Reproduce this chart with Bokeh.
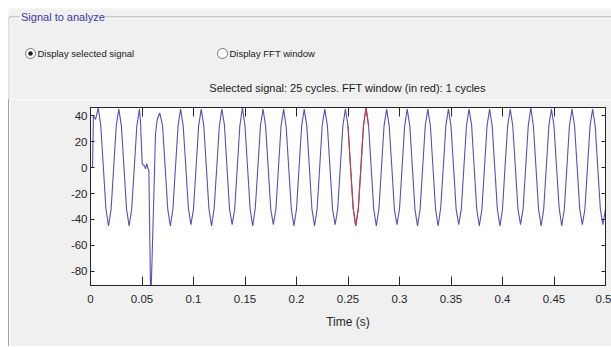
import numpy as np
from bokeh.plotting import figure
from bokeh.models import Range1d, LinearAxis, FixedTicker, ColumnDataSource
from bokeh.embed import file_html
from bokeh.resources import INLINE
from bokeh.core.properties import value

# ---------------- data ----------------
panel_title = "Signal to analyze"
radio_labels = ["Display selected signal", "Display FFT window"]
radio_selected = [True, False]
chart_title = "Selected signal: 25 cycles. FFT window (in red): 1 cycles"
x_label = "Time (s)"

x_ticks = [0, 0.05, 0.1, 0.15, 0.2, 0.25, 0.3, 0.35, 0.4, 0.45, 0.5]
x_tick_labels = ["0", "0.05", "0.1", "0.15", "0.2", "0.25", "0.3", "0.35", "0.4", "0.45", "0.5"]
y_ticks = [-80, -60, -40, -20, 0, 20, 40]
y_tick_labels = ["-80", "-60", "-40", "-20", "0", "20", "40"]

fft_window = [0.25, 0.27]   # seconds, drawn in red

# start of record and the disturbance (irregular samples): seconds / amplitude
time_a = [0, 0.002, 0.0028, 0.005, 0.0075, 0.01, 0.0125, 0.015, 0.0175, 0.02,
          0.0225, 0.025, 0.0275, 0.03, 0.0325, 0.035, 0.0375, 0.04, 0.0425, 0.045,
          0.0475, 0.0485, 0.0502, 0.0525, 0.0535, 0.0545, 0.0556, 0.0567, 0.0583,
          0.0589, 0.0614, 0.0631, 0.0648, 0.0672]
signal_a = [0, 0, 40, 37, 46, 32, 0, -32, -45, -32,
            0, 32, 45, 32, 0, -32, -45, -32, 0, 32,
            45, 36, 3, 1, -1, 3, 0, -3, -96,
            -94, -25, 26, 37, 42]

# steady part, sampled every 2.5 ms from 0.07 s to 0.5 s
time_b_start = 0.07
time_b_step = 0.0025
signal_b = [
    32, 0, -32, -45, -32, 0, 32, 45,
    32, 1, -31, -44, -32, 0, 32, 45,
    32, 0, -32, -45, -32, -1, 31, 45,
    33, 0, -32, -44, -32, 0, 32, 46,
    32, 0, -32, -45, -31, 0, 32, 45,
    32, 0, -32, -44, -32, 0, 32, 45,
    31, -1, -32, -45, -32, 0, 32, 45,
    32, 0, -32, -45, -32, 0, 33, 45,
    32, 0, -32, -44, -32, 0, 32, 45,
    32, 0, -31, -45, -32, 0, 32, 46,
    32, 0, -32, -45, -32, 0, 32, 45,
    32, 1, -32, -44, -32, 0, 32, 45,
    32, 0, -32, -45, -32, 0, 32, 45,
    32, 0, -32, -45, -31, 0, 32, 45,
    32, 0, -32, -44, -32, 0, 32, 45,
    33, 0, -32, -45, -32, 0, 32, 45,
    32, 0, -32, -45, -32, 1, 32, 45,
    32, 0, -32, -44, -32, 0, 32, 46,
    32, 0, -32, -45, -32, 0, 32, 45,
    32, 0, -31, -45, -32, 0, 32, 45,
    32, 0, -32, -44, -32, 0, 32, 45,
    32, 0, -32, -44, -32,
]

# ---------------- build series ----------------
time_b = np.round(time_b_start + time_b_step * np.arange(len(signal_b)), 5)
t_all = np.concatenate([np.array(time_a, dtype=float), time_b])
v_all = np.concatenate([np.array(signal_a, dtype=float), np.array(signal_b, dtype=float)])
mask = (t_all >= fft_window[0] - 1e-9) & (t_all <= fft_window[1] + 1e-9)

src_all = ColumnDataSource(dict(t=t_all, v=v_all))
src_red = ColumnDataSource(dict(t=t_all[mask], v=v_all[mask]))

# ---------------- styles ----------------
FONT = "Liberation Sans"
BG = "#f0f0f0"
INK = "#262626"
FRAME_GRAY = "#a0a0a0"
BLUE = "#5252b8"
RED = "#cc3b3b"

# ---------------- header: group box, radio buttons, chart title ----------------
HW, HH = 603, 91
head = figure(width=HW, height=HH, x_range=Range1d(0, HW), y_range=Range1d(HH, 0),
              x_axis_type=None, y_axis_type=None, toolbar_location=None,
              output_backend="svg", min_border=0)
head.styles = {"margin-left": "8px", "margin-top": "8px", "vertical-align": "top"}
head.grid.visible = False
head.outline_line_color = None
head.background_fill_color = BG
head.border_fill_color = BG

gap_end = 96
head.segment(x0=[1, gap_end, 0.5], y0=[8.5, 8.5, 8.5], x1=[11, HW, 0.5], y1=[8.5, 8.5, HH],
             line_color=FRAME_GRAY, line_width=1)
head.segment(x0=[2, gap_end, 1.5], y0=[9.5, 9.5, 9.5], x1=[11, HW, 1.5], y1=[9.5, 9.5, HH],
             line_color="white", line_width=1)
head.text(x=[12.5], y=[8.5], text=[panel_title], text_font=value(FONT),
          text_font_size=value("11px"), text_color="#3a3aa0",
          text_baseline="middle", text_align="left")

radio_x = [22, 214]
radio_y = [45, 45]
head.scatter(x=radio_x, y=radio_y, marker="circle", size=10, fill_color="white",
             line_color="#7a7a7a", line_width=1)
sel_x = [x for x, s in zip(radio_x, radio_selected) if s]
sel_y = [y for y, s in zip(radio_y, radio_selected) if s]
head.scatter(x=sel_x, y=sel_y, marker="circle", size=4.5, fill_color="#1a1a1a", line_color=None)
head.text(x=[x + 7 for x in radio_x], y=radio_y, text=radio_labels, text_font=value(FONT),
          text_font_size=value("9.5px"), text_color="#1a1a1a",
          text_baseline="middle", text_align="left")

head.text(x=[339], y=[79], text=[chart_title], text_font=value(FONT),
          text_font_size=value("11px"), text_color="#1a1a1a",
          text_baseline="middle", text_align="center")

# ---------------- signal plot ----------------
PW, PH = 602, 247
p = figure(width=PW, height=PH, x_range=Range1d(0, 0.5), y_range=Range1d(-90.8, 46.2),
           toolbar_location=None, output_backend="svg",
           min_border_left=81, min_border_right=6, min_border_top=8, min_border_bottom=61)
p.styles = {"margin-left": "9px", "box-shadow": "-1px 0 0 " + FRAME_GRAY,
            "vertical-align": "top"}
p.background_fill_color = "white"
p.border_fill_color = BG
p.outline_line_color = INK
p.grid.visible = False

p.line("t", "v", source=src_all, line_color=BLUE, line_width=1.1)
p.line("t", "v", source=src_red, line_color=RED, line_width=1.1)

xt = FixedTicker(ticks=x_ticks)
yt = FixedTicker(ticks=y_ticks)
x_over = {t: l for t, l in zip(x_ticks, x_tick_labels)}
y_over = {t: l for t, l in zip(y_ticks, y_tick_labels)}

for ax in p.xaxis:
    ax.ticker = xt
    ax.major_label_overrides = x_over
    ax.axis_label = x_label
    ax.axis_label_text_font = FONT
    ax.axis_label_text_font_size = "12px"
    ax.axis_label_text_font_style = "normal"
    ax.axis_label_text_color = INK
    ax.axis_label_standoff = 9
    ax.major_label_standoff = 9
    ax.major_tick_in = 9
    ax.major_tick_out = 0

for ax in p.yaxis:
    ax.ticker = yt
    ax.major_label_overrides = y_over
    ax.major_label_standoff = 3
    ax.major_tick_in = 4
    ax.major_tick_out = 0

for ax in list(p.xaxis) + list(p.yaxis):
    ax.axis_line_color = INK
    ax.major_tick_line_color = INK
    ax.minor_tick_line_color = None
    ax.major_label_text_font = FONT
    ax.major_label_text_font_size = "11.5px"
    ax.major_label_text_color = INK

top_ax = LinearAxis(ticker=FixedTicker(ticks=x_ticks), major_tick_in=9, major_tick_out=0,
                    minor_tick_line_color=None, axis_line_color=INK, major_tick_line_color=INK,
                    major_label_text_font_size="1px", major_label_text_color=None,
                    major_label_standoff=0)
right_ax = LinearAxis(ticker=FixedTicker(ticks=y_ticks), major_tick_in=4, major_tick_out=0,
                      minor_tick_line_color=None, axis_line_color=INK, major_tick_line_color=INK,
                      major_label_text_font_size="1px", major_label_text_color=None,
                      major_label_standoff=0)
p.add_layout(top_ax, "above")
p.add_layout(right_ax, "right")

open("out.html", "w").write(file_html([head, p], INLINE))
